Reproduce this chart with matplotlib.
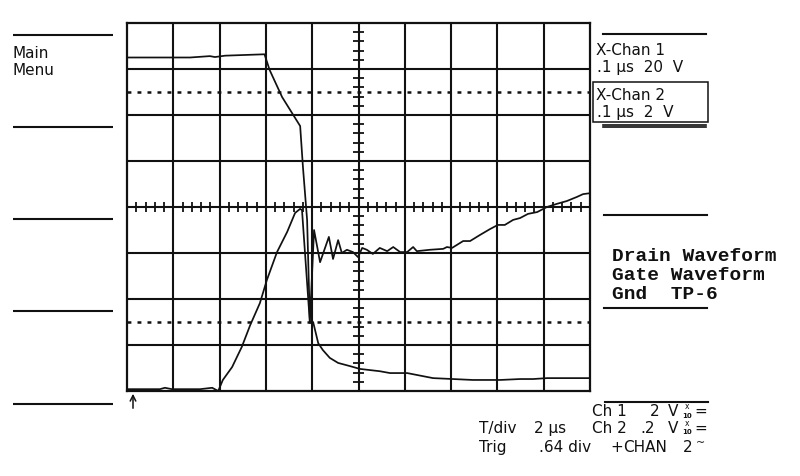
import matplotlib
matplotlib.use("Agg")
import matplotlib.pyplot as plt
import numpy as np

plt.rcParams['lines.scale_dashes'] = False
plt.rcParams['font.family'] = ['DejaVu Sans']

# ---- data (time in divisions, amplitude in divisions) ----
drain_t = [0, 1.36, 1.79, 1.90, 2.12, 2.97, 3.08, 3.35, 3.74, 3.80, 3.89,
           3.95, 4.04, 4.17, 4.36, 4.45, 4.56, 4.64, 4.75, 4.88, 4.99,
           5.08, 5.18, 5.31, 5.46, 5.62, 5.75, 5.90, 6.05, 6.18, 6.26,
           6.54, 6.83, 6.91, 7.02, 7.26, 7.41, 7.62, 7.84, 8.01, 8.16,
           8.34, 8.49, 8.66, 8.86, 9.07, 9.29, 9.50, 9.72, 9.85, 10.0]
drain_v = [3.25, 3.25, 3.28, 3.26, 3.29, 3.32, 2.98, 2.39, 1.76, 0.87, -0.28,
           -2.5, -0.5, -1.20, -0.65, -1.13, -0.72, -1.0, -0.93, -0.98, -1.09,
           -0.89, -0.93, -1.02, -0.89, -0.96, -0.87, -0.98, -0.98, -0.87, -0.96,
           -0.93, -0.91, -0.87, -0.89, -0.74, -0.74, -0.61, -0.48, -0.39, -0.39,
           -0.28, -0.24, -0.15, -0.11, 0.0, 0.07, 0.13, 0.22, 0.28, 0.30]

gate_t = [0, 0.71, 0.82, 0.97, 1.58, 1.84, 1.97, 2.07, 2.27, 2.48,
          2.66, 2.87, 3.02, 3.24, 3.46, 3.63, 3.74, 3.78, 3.95, 4.02,
          4.13, 4.23, 4.38, 4.56, 4.82, 5.03, 5.46, 5.68, 6.05, 6.61,
          7.04, 7.47, 8.06, 8.49, 8.77, 9.07, 9.50, 10.0]
gate_v = [-3.96, -3.96, -3.93, -3.96, -3.96, -3.93, -4.0, -3.76, -3.48, -3.04,
          -2.57, -2.09, -1.59, -0.98, -0.54, -0.13, -0.04, -0.07, -2.52, -2.5,
          -2.96, -3.11, -3.28, -3.39, -3.46, -3.52, -3.57, -3.61, -3.61, -3.72,
          -3.74, -3.76, -3.76, -3.74, -3.74, -3.72, -3.72, -3.72]

menu_labels = ["Main", "Menu"]
chan_labels = [("X-Chan 1", ".1 µs  20  V"), ("X-Chan 2", ".1 µs  2  V")]
wave_labels = ["Drain Waveform", "Gate Waveform", "Gnd  TP-6"]

INK = "#111111"
W, H = 800, 476
fig = plt.figure(figsize=(W / 100, H / 100), dpi=100)
fig.patch.set_facecolor("white")

# overlay in pixel coordinates for the screen annotations
ov = fig.add_axes([0, 0, 1, 1])
ov.set_xlim(0, W)
ov.set_ylim(H, 0)
ov.axis("off")

# left soft-key separators and menu text
for y in [35, 127, 219, 311, 404]:
    ov.plot([13, 113], [y, y], color=INK, lw=1.5, solid_capstyle="butt")
ov.text(12, 58, menu_labels[0], fontsize=11, color=INK, va="baseline")
ov.text(12, 75, menu_labels[1], fontsize=11, color=INK, va="baseline")

# right side: channel blocks
ov.plot([603, 706], [34, 34], color=INK, lw=1.5)
ov.text(596, 55, chan_labels[0][0], fontsize=11, color=INK, va="baseline")
ov.text(597, 72, chan_labels[0][1], fontsize=11, color=INK, va="baseline")
ov.add_patch(plt.Rectangle((593, 82), 115, 40, fill=False, ec=INK, lw=1.1))
ov.text(596, 100, chan_labels[1][0], fontsize=11, color=INK, va="baseline")
ov.text(597, 117, chan_labels[1][1], fontsize=11, color=INK, va="baseline")
ov.plot([603, 706], [124.5, 124.5], color=INK, lw=1.2)
ov.plot([603, 706], [127, 127], color=INK, lw=1.2)

# waveform labels
ov.plot([604, 707], [215, 215], color=INK, lw=1.5)
for i, s in enumerate(wave_labels):
    ov.text(612, 261 + i * 19, s, fontsize=14, family="Liberation Mono",
            fontweight="bold", color=INK, va="baseline")
ov.plot([604, 707], [308, 308], color=INK, lw=1.5)

# bottom status block
ov.plot([605, 708], [402, 402], color=INK, lw=1.5)
fs = 11
def t(x, y, s, **kw):
    ov.text(x, y, s, fontsize=kw.pop("fontsize", fs), color=INK, va="baseline", **kw)

t(592, 416, "Ch 1")
t(650, 416, "2")
t(668, 416, "V")
t(479, 433, "T/div")
t(534, 433, "2 µs")
t(592, 433, "Ch 2")
t(640, 433, ".2")
t(668, 433, "V")
for yb in (416, 433):
    t(687, yb - 7, "x", fontsize=5.5, ha="center")
    t(687, yb + 1.5, "10", fontsize=5, ha="center", fontweight="bold")
    t(694, yb, "=")
t(479, 452, "Trig")
t(539, 452, ".64 div")
t(610, 452, "+")
t(623, 452, "CHAN")
t(683, 452, "2")
t(696, 446, "~", fontsize=8)

# ground/trigger arrow
ov.annotate("", xy=(133, 391), xytext=(133, 411),
            arrowprops=dict(arrowstyle="->", color=INK, lw=1.1,
                            mutation_scale=10))

# ---- graticule with traces ----
L, R, T, B = 127, 590, 23, 391
ax = fig.add_axes([L / W, 1 - B / H, (R - L) / W, (B - T) / H])
ax.set_facecolor("none")
ax.set_xlim(0, 10)
ax.set_ylim(-4, 4)
ax.set_xticks([])
ax.set_yticks([])
for sp in ax.spines.values():
    sp.set_linewidth(1.6)
    sp.set_color(INK)

for xv in range(1, 10):
    ax.axvline(xv, color=INK, lw=1.5)
for yv in range(-3, 4):
    ax.axhline(yv, color=INK, lw=1.5)
for yv in (2.5, -2.5):
    ax.axhline(yv, color=INK, lw=1.8, linestyle=(0, (2.8, 4.4)))

# minor ticks on center axes
tx = [v for v in np.round(np.arange(0.2, 10.0, 0.2), 2)]
ax.vlines(tx, -0.11, 0.11, color=INK, lw=1.3)
ty = [v for v in np.round(np.arange(-3.8, 4.0, 0.2), 2)]
ax.hlines(ty, 4.885, 5.115, color=INK, lw=1.3)

ax.plot(drain_t, drain_v, color=INK, lw=1.25, clip_on=False)
ax.plot(gate_t, gate_v, color=INK, lw=1.25, clip_on=False)

fig.savefig("out.png", dpi=100, facecolor="white")
